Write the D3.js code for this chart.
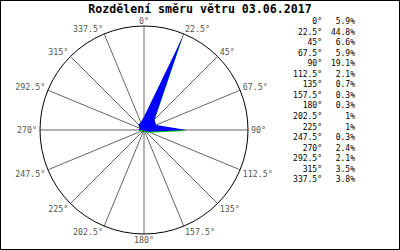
<!DOCTYPE html>
<html><head><meta charset="utf-8">
<script src="https://cdn.jsdelivr.net/npm/d3@7"></script>
<style>body{margin:0;background:#fff}svg{display:block}</style>
</head><body>
<script>
const title = "Rozdělení směru větru 03.06.2017";
const directions = [0, 22.5, 45, 67.5, 90, 112.5, 135, 157.5, 180, 202.5, 225, 247.5, 270, 292.5, 315, 337.5];
const values = [5.9, 44.8, 6.6, 5.9, 19.1, 2.1, 0.7, 0.3, 0.3, 1, 1, 0.3, 2.4, 2.1, 3.5, 3.8];

const W = 400, H = 250;
const cx = 144, cy = 130, R = 104;
const font = "'DejaVu Sans Mono', 'Liberation Mono', monospace";

const svg = d3.select("body").append("svg").attr("width", W).attr("height", H);
svg.append("rect").attr("x", 0.5).attr("y", 0.5).attr("width", W - 1).attr("height", H - 1)
  .attr("fill", "#fff").attr("stroke", "#000");

svg.append("text").attr("x", 200).attr("y", 13).attr("text-anchor", "middle")
  .attr("font-family", font).attr("font-size", 11.6).attr("font-weight", "bold").attr("fill", "#000")
  .text(title);

const r = d3.scaleLinear().domain([0, 46.5]).range([0, R]);
const toRad = d => d * Math.PI / 180;
const g = svg.append("g").attr("transform", `translate(${cx},${cy})`);

// spokes
g.selectAll("line.spoke").data(directions).join("line")
  .attr("x1", 0).attr("y1", 0)
  .attr("x2", d => R * Math.sin(toRad(d))).attr("y2", d => -R * Math.cos(toRad(d)))
  .attr("stroke", "#666").attr("stroke-width", 1);

g.append("circle").attr("r", R).attr("fill", "none").attr("stroke", "#000").attr("stroke-width", 1);

// polygon
const pts = directions.map((d, i) => [r(values[i]) * Math.sin(toRad(d)), -r(values[i]) * Math.cos(toRad(d))]);
const line = d3.line().curve(d3.curveLinearClosed);
g.append("path").attr("d", line(pts)).attr("fill", "#00d000").attr("transform", "translate(0,1)");
g.append("path").attr("d", line(pts)).attr("fill", "#0000ff");

// labels
const LR = R + 3;
g.selectAll("text.lbl").data(directions).join("text")
  .attr("x", d => LR * Math.sin(toRad(d)))
  .attr("y", d => -LR * Math.cos(toRad(d)))
  .attr("dy", d => { const c = Math.cos(toRad(d)); return c > 0.1 ? "0.1em" : (c < -0.1 ? "0.75em" : "0.35em"); })
  .attr("text-anchor", d => { const s = Math.sin(toRad(d)); return s > 0.1 ? "start" : (s < -0.1 ? "end" : "middle"); })
  .attr("font-family", font).attr("font-size", 8.3).attr("fill", "#555")
  .text(d => d + "°");

// legend
const leg = svg.append("g").attr("font-family", font).attr("font-size", 8).attr("fill", "#000");
leg.selectAll("text.deg").data(directions).join("text")
  .attr("x", 322).attr("y", (d, i) => 24 + i * 10.55).attr("text-anchor", "end")
  .text(d => d + "°");
leg.selectAll("text.val").data(values).join("text")
  .attr("x", 355).attr("y", (d, i) => 24 + i * 10.55).attr("text-anchor", "end")
  .text(d => d + "%");
</script>
</body></html>
